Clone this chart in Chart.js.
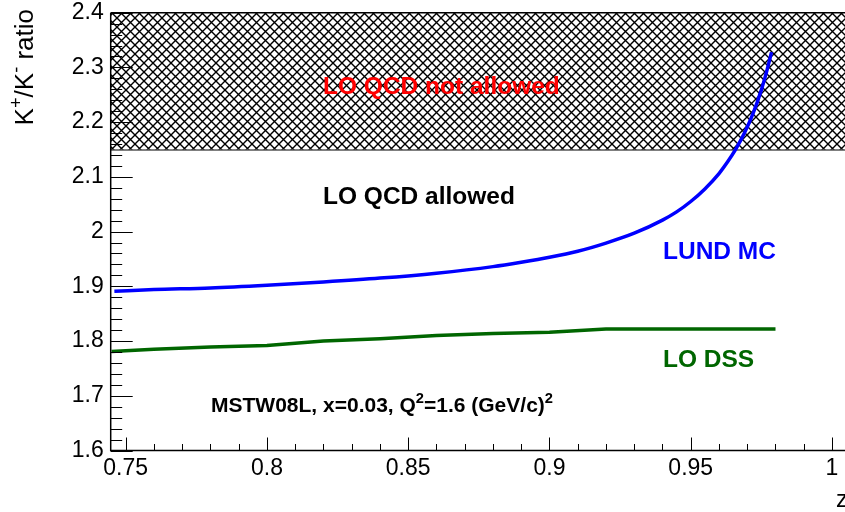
<!DOCTYPE html>
<html>
<head>
<meta charset="utf-8">
<script src="https://cdn.jsdelivr.net/npm/chart.js@4/dist/chart.umd.min.js"></script>
<style>
  html, body { margin: 0; padding: 0; background: #fff; }
  canvas { display: block; }
</style>
</head>
<body>
<canvas id="c" width="845" height="512"></canvas>
<script>
// LUND MC prediction of the K+/K- ratio versus z
const lundZ = [0.746, 0.76, 0.78, 0.80, 0.82, 0.84, 0.86, 0.88, 0.89, 0.90, 0.91, 0.92, 0.93, 0.94, 0.945, 0.95, 0.955, 0.96, 0.963, 0.966, 0.969, 0.972, 0.975, 0.977, 0.9786];
const lundRatio = [1.891, 1.894, 1.897, 1.902, 1.908, 1.915, 1.924, 1.936, 1.944, 1.953, 1.964, 1.979, 1.997, 2.021, 2.036, 2.055, 2.078, 2.106, 2.127, 2.151, 2.180, 2.215, 2.259, 2.295, 2.328];

// LO DSS fragmentation-function prediction
const dssZ = [0.745, 0.76, 0.78, 0.80, 0.82, 0.84, 0.86, 0.88, 0.90, 0.92, 0.94, 0.96, 0.98];
const dssRatio = [1.781, 1.785, 1.789, 1.792, 1.800, 1.804, 1.810, 1.814, 1.816, 1.822, 1.822, 1.822, 1.822];

// LO QCD upper bound on the ratio (hatched band above it)
const loQcdLimit = 2.15;

// Axis ticks and their labels
const xTicks = [0.75, 0.8, 0.85, 0.9, 0.95, 1];
const xTickLabels = ["0.75", "0.8", "0.85", "0.9", "0.95", "1"];
const yTicks = [1.6, 1.7, 1.8, 1.9, 2.0, 2.1, 2.2, 2.3, 2.4];
const yTickLabels = ["1.6", "1.7", "1.8", "1.9", "2", "2.1", "2.2", "2.3", "2.4"];

const X_MIN = 0.7447, X_MAX = 1.0046, Y_MIN = 1.6, Y_MAX = 2.4;
const FONT = '"Liberation Sans", Arial, Helvetica, sans-serif';

function pts(xs, ys) { return xs.map((x, i) => ({ x: x, y: ys[i] })); }

function hatchPattern(ctx) {
  const p = document.createElement('canvas');
  p.width = 9; p.height = 9;
  const g = p.getContext('2d');
  g.strokeStyle = '#000';
  g.lineWidth = 1.4;
  g.beginPath();
  g.moveTo(0, 0); g.lineTo(9, 9);
  g.moveTo(9, 0); g.lineTo(0, 9);
  g.stroke();
  return ctx.createPattern(p, 'repeat');
}

// text with simple superscripts: parts = [[text, isSup], ...]
function drawRich(ctx, parts, x, y, size, weight, color) {
  let cx = x;
  ctx.fillStyle = color;
  ctx.textBaseline = 'alphabetic';
  ctx.textAlign = 'left';
  for (const [t, sup] of parts) {
    const s = sup ? size * 0.7 : size;
    ctx.font = weight + ' ' + s + 'px ' + FONT;
    ctx.fillText(t, cx, sup ? y - size * 0.42 : y);
    cx += ctx.measureText(t).width;
  }
  return cx - x;
}

function richWidth(ctx, parts, size, weight) {
  let w = 0;
  for (const [t, sup] of parts) {
    ctx.font = weight + ' ' + (sup ? size * 0.7 : size) + 'px ' + FONT;
    w += ctx.measureText(t).width;
  }
  return w;
}

const decor = {
  id: 'decor',
  beforeDatasetsDraw(chart) {
    const { ctx, chartArea: a, scales: { y } } = chart;
    const yl = y.getPixelForValue(loQcdLimit);
    ctx.save();
    ctx.fillStyle = hatchPattern(ctx);
    ctx.fillRect(a.left, a.top, a.right - a.left, yl - a.top);
    ctx.strokeStyle = '#000';
    ctx.lineWidth = 1;
    ctx.beginPath();
    ctx.moveTo(a.left, yl + 0.5); ctx.lineTo(a.right, yl + 0.5);
    ctx.stroke();
    ctx.restore();
  },
  afterDatasetsDraw(chart) {
    const { ctx, chartArea: a, scales: { x, y } } = chart;
    ctx.save();
    // frame
    ctx.strokeStyle = '#000';
    ctx.lineWidth = 1.5;
    ctx.beginPath();
    ctx.moveTo(a.left, a.top); ctx.lineTo(a.right, a.top);
    ctx.moveTo(a.left, a.top); ctx.lineTo(a.left, a.bottom);
    ctx.lineTo(a.right, a.bottom);
    ctx.stroke();
    // inward ticks
    ctx.lineWidth = 1;
    ctx.beginPath();
    for (let v = 0.75; v <= 1.0001; v += 0.01) {
      const px = Math.round(x.getPixelForValue(v)) + 0.5;
      const major = Math.abs(v / 0.05 - Math.round(v / 0.05)) < 1e-6;
      ctx.moveTo(px, a.bottom); ctx.lineTo(px, a.bottom - (major ? 13 : 6.5));
    }
    for (let v = 1.6; v <= 2.4001; v += 0.02) {
      const py = Math.round(y.getPixelForValue(v)) + 0.5;
      const major = Math.abs(v / 0.1 - Math.round(v / 0.1)) < 1e-6;
      ctx.moveTo(a.left, py); ctx.lineTo(a.left + (major ? 22 : 11.5), py);
    }
    ctx.stroke();

    // annotations
    drawRich(ctx, [['LO QCD not allowed', false]], 323, 94, 24.5, 'bold', '#ff0000');
    drawRich(ctx, [['LO QCD allowed', false]], 323, 204, 24.5, 'bold', '#000000');
    drawRich(ctx, [['LUND MC', false]], 663, 259, 24.5, 'bold', '#0000ff');
    drawRich(ctx, [['LO DSS', false]], 663, 367, 24.5, 'bold', '#006600');
    drawRich(ctx, [['MSTW08L, x=0.03, Q', false], ['2', true], ['=1.6 (GeV/c)', false], ['2', true]],
             211, 412, 21, 'bold', '#000000');

    // axis titles
    const yTitle = [['K', false], ['+', true], ['/K', false], ['-', true], [' ratio', false]];
    const tw = richWidth(ctx, yTitle, 26, 'normal');
    ctx.save();
    ctx.translate(33, 9 + tw);
    ctx.rotate(-Math.PI / 2);
    drawRich(ctx, yTitle, 0, 0, 26, 'normal', '#000000');
    ctx.restore();
    drawRich(ctx, [['z', false]], 836, 507, 24, 'normal', '#000000');
    ctx.restore();
  }
};

new Chart(document.getElementById('c'), {
  type: 'line',
  data: {
    datasets: [
      {
        label: 'LUND MC',
        data: pts(lundZ, lundRatio),
        borderColor: '#0000ff',
        borderWidth: 3.5,
        pointRadius: 0,
        cubicInterpolationMode: 'monotone',
        fill: false
      },
      {
        label: 'LO DSS',
        data: pts(dssZ, dssRatio),
        borderColor: '#006600',
        borderWidth: 3.5,
        pointRadius: 0,
        tension: 0,
        fill: false
      }
    ]
  },
  options: {
    responsive: false,
    animation: false,
    devicePixelRatio: 1,
    layout: { padding: { top: 12.7, right: 0, left: 0, bottom: 0 } },
    plugins: { legend: { display: false }, tooltip: { enabled: false } },
    scales: {
      x: {
        type: 'linear',
        min: X_MIN, max: X_MAX,
        grid: { display: false, drawTicks: false },
        border: { display: false },
        afterBuildTicks: s => { s.ticks = xTicks.map(v => ({ value: v })); },
        afterFit: s => { s.height = 61.5; s.paddingLeft = 0; s.paddingRight = 0; },
        ticks: {
          autoSkip: false,
          maxRotation: 0,
          padding: 4,
          color: '#000',
          font: { family: FONT, size: 23 },
          callback: v => { const i = xTicks.findIndex(t => Math.abs(t - v) < 1e-9); return i >= 0 ? xTickLabels[i] : ''; }
        }
      },
      y: {
        type: 'linear',
        min: Y_MIN, max: Y_MAX,
        grid: { display: false, drawTicks: false },
        border: { display: false },
        afterBuildTicks: s => { s.ticks = yTicks.map(v => ({ value: v })); },
        afterFit: s => { s.width = 110.7; s.paddingTop = 0; s.paddingBottom = 0; },
        ticks: {
          autoSkip: false,
          padding: 7,
          color: '#000',
          font: { family: FONT, size: 23 },
          callback: v => { const i = yTicks.findIndex(t => Math.abs(t - v) < 1e-9); return i >= 0 ? yTickLabels[i] : ''; }
        }
      }
    }
  },
  plugins: [decor]
});
</script>
</body>
</html>
